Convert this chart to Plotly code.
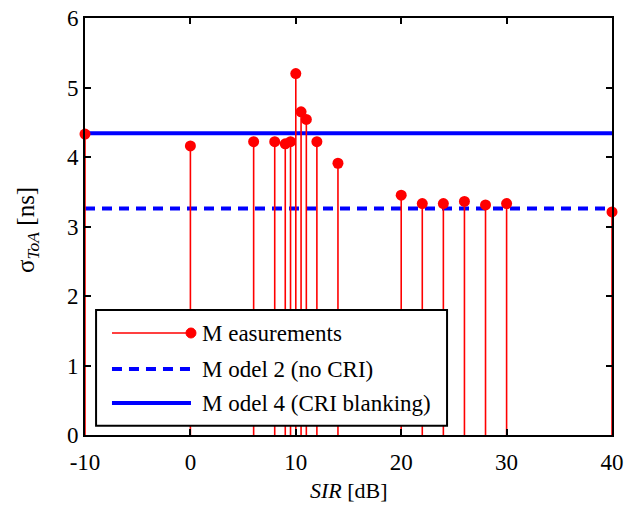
import plotly.graph_objects as go

# Data
sir_db = [-10, 0, 6, 8, 9, 9.5, 10, 10.5, 11, 12, 14, 20, 22, 24, 26, 28, 30, 40]
sigma_meas = [4.33, 4.16, 4.22, 4.22, 4.19, 4.22, 5.2, 4.65, 4.54, 4.22, 3.91,
              3.45, 3.33, 3.33, 3.36, 3.31, 3.33, 3.21]
model2_level = 3.26
model4_level = 4.34
x_range = [-10, 40]
x_ticks = [-10, 0, 10, 20, 30, 40]
y_ticks = [0, 1, 2, 3, 4, 5, 6]
legend_labels = ["M easurements", "M odel 2 (no CRI)", "M odel 4 (CRI blanking)"]

FONT = "Liberation Serif"

# stems
sx, sy = [], []
for x, v in zip(sir_db, sigma_meas):
    sx += [x, x, None]
    sy += [0, v, None]

fig = go.Figure()
fig.add_trace(go.Scatter(x=x_range, y=[model4_level, model4_level], mode="lines",
                         line=dict(color="#0000ff", width=4), showlegend=False))
fig.add_trace(go.Scatter(x=x_range, y=[model2_level, model2_level], mode="lines",
                         line=dict(color="#0000ff", width=4, dash="10px,7px"), showlegend=False))
fig.add_trace(go.Scatter(x=sx, y=sy, mode="lines", line=dict(color="#ff0000", width=1.6),
                         showlegend=False, cliponaxis=False))
fig.add_trace(go.Scatter(x=sir_db, y=sigma_meas, mode="markers",
                         marker=dict(color="#ff0000", size=11), showlegend=False,
                         cliponaxis=False))

# manual legend (paper coordinates)
PW, PH = 527.0, 417.0
shapes = [dict(type="rect", xref="paper", yref="paper", x0=0.021, x1=0.687, y0=0.022, y1=0.300,
               line=dict(color="black", width=2), fillcolor="white", layer="above")]
ly = [0.2446, 0.158, 0.0767]
lx0, lx1 = 0.0512, 0.2011
shapes.append(dict(type="line", xref="paper", yref="paper", x0=lx0, x1=lx1, y0=ly[0], y1=ly[0],
                   line=dict(color="#ff0000", width=1.6), layer="above"))
shapes.append(dict(type="circle", xref="paper", yref="paper",
                   x0=lx1 - 5/PW, x1=lx1 + 5/PW, y0=ly[0] - 5/PH, y1=ly[0] + 5/PH,
                   line=dict(color="#ff0000", width=1), fillcolor="#ff0000", layer="above"))
shapes.append(dict(type="line", xref="paper", yref="paper", x0=lx0, x1=lx1, y0=ly[1], y1=ly[1],
                   line=dict(color="#0000ff", width=4, dash="10px,7px"), layer="above"))
shapes.append(dict(type="line", xref="paper", yref="paper", x0=lx0, x1=lx1, y0=ly[2], y1=ly[2],
                   line=dict(color="#0000ff", width=4), layer="above"))

annotations = []
for lab, y in zip(legend_labels, ly):
    annotations.append(dict(text=lab, xref="paper", yref="paper", x=0.218, y=y,
                            xanchor="left", yanchor="middle", showarrow=False,
                            font=dict(family=FONT, size=23, color="black")))
# axis titles
annotations.append(dict(text="<i>SIR</i> [dB]", xref="paper", yref="paper",
                        x=0.5, y=-55/PH, xanchor="center", yanchor="middle", showarrow=False,
                        font=dict(family=FONT, size=22, color="black")))
annotations.append(dict(text="σ<sub><i>ToA</i></sub> [ns]", xref="paper", yref="paper",
                        x=-57/PW, y=(435-230)/PH, xanchor="center", yanchor="middle",
                        textangle=-90, showarrow=False,
                        font=dict(family=FONT, size=25, color="black")))

fig.update_layout(
    width=640, height=505,
    margin=dict(l=85, r=28, t=18, b=70, autoexpand=False),
    paper_bgcolor="white", plot_bgcolor="white",
    font=dict(family=FONT, size=23, color="black"),
    shapes=shapes, annotations=annotations,
    xaxis=dict(range=x_range, tickvals=x_ticks, ticktext=[str(t) for t in x_ticks],
               ticks="inside", ticklen=6, tickwidth=1.5, tickcolor="black",
               showline=True, linecolor="black", linewidth=2, mirror="ticks",
               showgrid=False, zeroline=False, automargin=False,
               ticklabelstandoff=5,
               tickfont=dict(family=FONT, size=23)),
    yaxis=dict(range=[0, 6], tickvals=y_ticks,
               ticks="inside", ticklen=6, tickwidth=1.5, tickcolor="black",
               showline=True, linecolor="black", linewidth=2, mirror="ticks",
               showgrid=False, zeroline=False, automargin=False,
               tickfont=dict(family=FONT, size=23)),
)

fig.write_html("out.html", config={"displayModeBar": False},
               post_script="document.body.style.margin='0';document.body.style.padding='0';")
